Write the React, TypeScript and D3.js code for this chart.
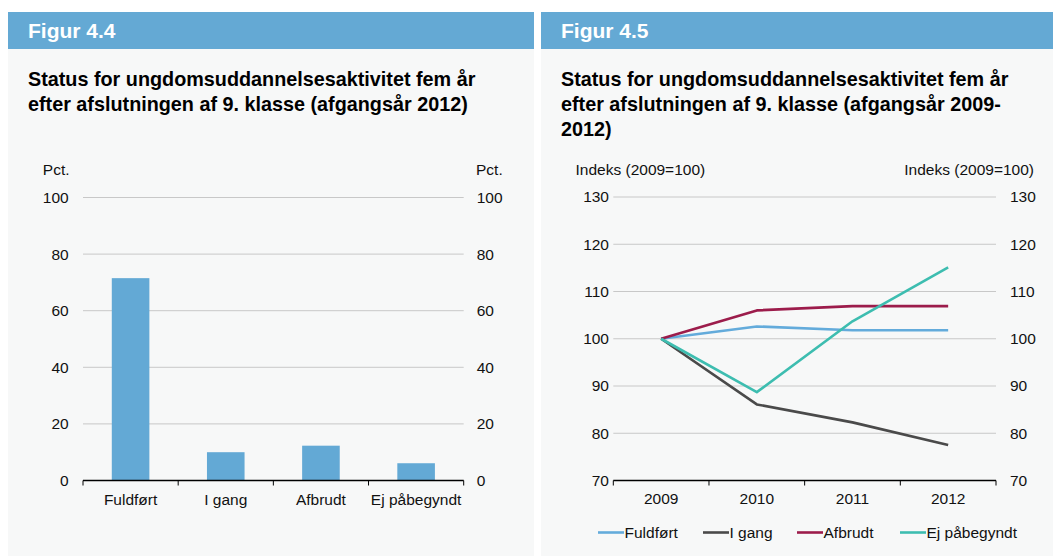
import * as d3 from "d3";

const FONT = '"Liberation Sans", Arial, Helvetica, sans-serif';

// Figur 4.4
const barCategories = ["Fuldført", "I gang", "Afbrudt", "Ej påbegyndt"];
const barValues = [71.5, 10.0, 12.3, 6.1];
const barTicks = [0, 20, 40, 60, 80, 100];

// Figur 4.5
const years = ["2009", "2010", "2011", "2012"];
const fuldfoert = [100, 102.6, 101.8, 101.8];
const iGang = [100, 86.1, 82.3, 77.5];
const afbrudt = [100, 106.0, 106.9, 106.9];
const ejPaabegyndt = [100, 88.7, 103.7, 115.1];
const lineTicks = [70, 80, 90, 100, 110, 120, 130];

const seriesNames = ["Fuldført", "I gang", "Afbrudt", "Ej påbegyndt"];
const seriesColors = ["#63abdb", "#4a4a4a", "#9c1c4b", "#3dbdb0"];

const HEADER = "#64a9d4";
const BG = "#f7f8f8";
const GRID = "#c8c8c8";
const TXT = "#111";
const FS = 15.5;

function Panel({ x, w, label, title }: { x: number; w: number; label: string; title: string[] }) {
  return (
    <g>
      <rect x={x} y={12} width={w} height={544} fill={BG} />
      <rect x={x} y={12} width={w} height={37} fill={HEADER} />
      <text x={x + 20} y={38} fill="#fff" fontSize={21} fontWeight="bold" fontFamily={FONT}>
        {label}
      </text>
      {title.map((t, i) => (
        <text key={i} x={x + 20} y={86 + i * 25} fill="#000" fontSize={19.8} fontWeight="bold" fontFamily={FONT}>
          {t}
        </text>
      ))}
    </g>
  );
}

function BarChart() {
  const left = 83, right = 463.7;
  const y = d3.scaleLinear().domain([0, 100]).range([480.5, 197.5]);
  const xOuter = d3.scaleBand().domain(barCategories).range([left, right]).padding(0);
  const xBar = d3.scaleBand().domain(barCategories).range([left, right]).paddingInner(0.605).paddingOuter(0.3025);
  const step = xOuter.step();
  return (
    <g fontFamily={FONT} fontSize={FS} fill={TXT}>
      <text x={69.5} y={175} textAnchor="end">Pct.</text>
      <text x={476} y={175}>Pct.</text>
      {barTicks.map((t) => (
        <g key={t}>
          {t > 0 && <line x1={left} x2={right} y1={y(t)} y2={y(t)} stroke={GRID} strokeWidth={1} />}
          <text x={68.7} y={y(t)} dy="0.35em" textAnchor="end">{t}</text>
          <text x={476.7} y={y(t)} dy="0.35em">{t}</text>
        </g>
      ))}
      {barCategories.map((c, i) => (
        <rect key={c} x={xBar(c)} y={y(barValues[i])} width={xBar.bandwidth()} height={y(0) - y(barValues[i])} fill="#63a9d5" />
      ))}
      <line x1={left} x2={right} y1={y(0)} y2={y(0)} stroke="#000" strokeWidth={1.3} />
      {d3.range(barCategories.length + 1).map((i) => (
        <line key={i} x1={left + i * step} x2={left + i * step} y1={y(0)} y2={y(0) + 5} stroke="#000" strokeWidth={1} />
      ))}
      {barCategories.map((c) => (
        <text key={c} x={(xOuter(c) as number) + step / 2} y={500} dy="0.35em" textAnchor="middle">{c}</text>
      ))}
    </g>
  );
}

function LineChart() {
  const left = 613.3, right = 996;
  const y = d3.scaleLinear().domain([70, 130]).range([480.5, 197]);
  const x = d3.scaleBand().domain(years).range([left, right]).padding(0);
  const step = x.step();
  const cx = (yr: string) => (x(yr) as number) + step / 2;
  const all = [fuldfoert, iGang, afbrudt, ejPaabegyndt];
  const line = d3
    .line<number>()
    .x((_, i) => cx(years[i]))
    .y((d) => y(d));
  const legendX = [598, 703, 797, 900];
  return (
    <g fontFamily={FONT} fontSize={FS} fill={TXT}>
      <text x={575.5} y={175}>Indeks (2009=100)</text>
      <text x={1034} y={175} textAnchor="end">Indeks (2009=100)</text>
      {lineTicks.map((t) => (
        <g key={t}>
          {t > 70 && <line x1={left} x2={right} y1={y(t)} y2={y(t)} stroke={GRID} strokeWidth={1} />}
          <text x={609} y={y(t)} dy="0.35em" textAnchor="end">{t}</text>
          <text x={1010} y={y(t)} dy="0.35em">{t}</text>
        </g>
      ))}
      <line x1={left} x2={right} y1={y(70)} y2={y(70)} stroke="#000" strokeWidth={1.3} />
      {d3.range(years.length + 1).map((i) => (
        <line key={i} x1={left + i * step} x2={left + i * step} y1={y(70)} y2={y(70) + 5} stroke="#000" strokeWidth={1} />
      ))}
      {years.map((yr) => (
        <text key={yr} x={cx(yr)} y={499} dy="0.35em" textAnchor="middle">{yr}</text>
      ))}
      {all.map((s, i) => (
        <path key={i} d={line(s) || ""} fill="none" stroke={seriesColors[i]} strokeWidth={2.6} strokeLinejoin="round" />
      ))}
      {seriesNames.map((n, i) => (
        <g key={n}>
          <line x1={legendX[i]} x2={legendX[i] + 26} y1={532.5} y2={532.5} stroke={seriesColors[i]} strokeWidth={2.6} />
          <text x={legendX[i] + 26.5} y={532.5} dy="0.35em">{n}</text>
        </g>
      ))}
    </g>
  );
}

export default function App() {
  return (
    <svg width={1053} height={556} style={{ position: "absolute", left: 0, top: 0, background: "#fff" }}>
      <Panel x={8} w={526} label="Figur 4.4" title={["Status for ungdomsuddannelsesaktivitet fem år", "efter afslutningen af 9. klasse (afgangsår 2012)"]} />
      <Panel x={541} w={512} label="Figur 4.5" title={["Status for ungdomsuddannelsesaktivitet fem år", "efter afslutningen af 9. klasse (afgangsår 2009-", "2012)"]} />
      <BarChart />
      <LineChart />
    </svg>
  );
}
